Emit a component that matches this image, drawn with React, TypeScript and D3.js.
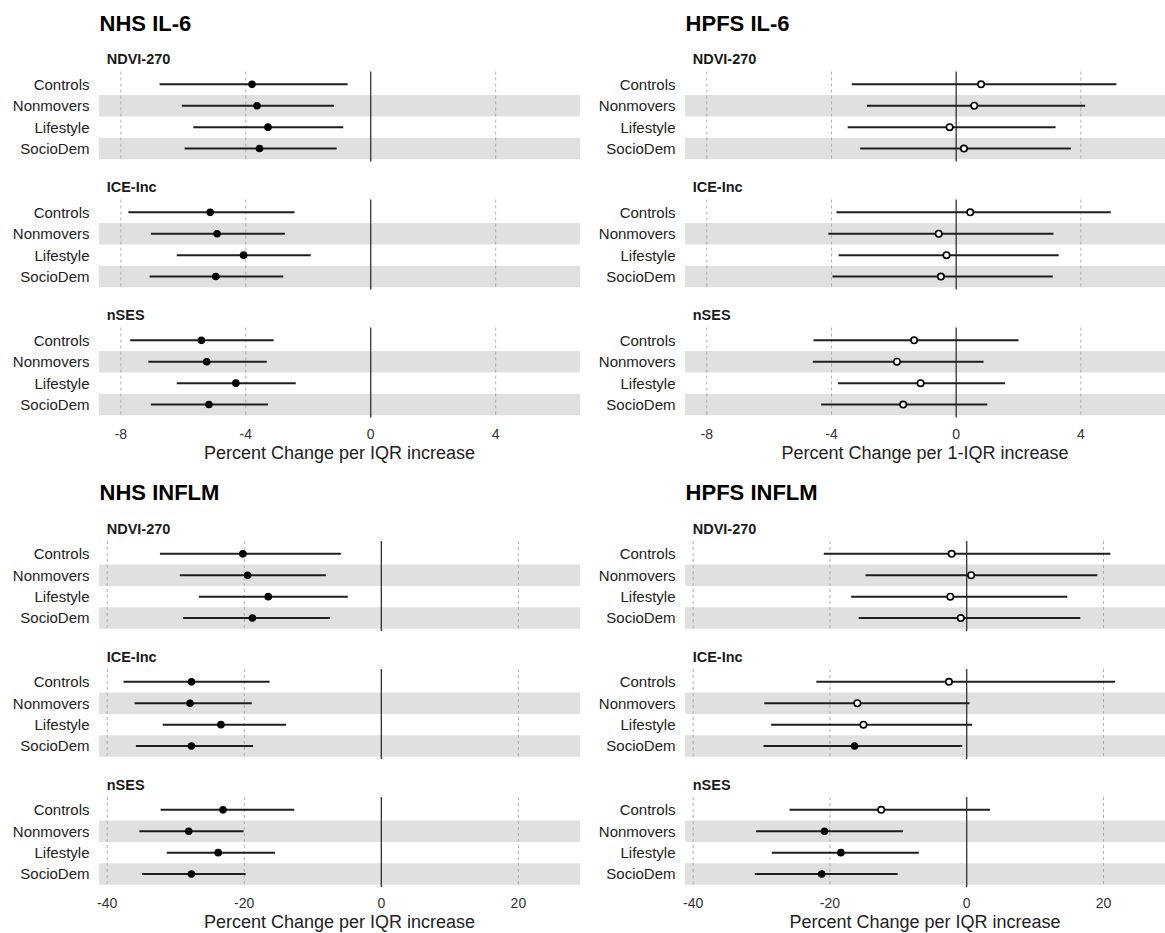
import * as d3 from 'd3'

// facets and models (rows inside each facet)
const exposures = ['NDVI-270', 'ICE-Inc', 'nSES']
const models = ['Controls', 'Nonmovers', 'Lifestyle', 'SocioDem']

// values in exposure order, 4 models each
const nhsIl6Est = [-3.8, -3.64, -3.29, -3.56, -5.14, -4.92, -4.07, -4.96, -5.42, -5.25, -4.32, -5.18]
const nhsIl6Lo = [-6.76, -6.05, -5.68, -5.96, -7.76, -7.04, -6.21, -7.08, -7.7, -7.12, -6.21, -7.04]
const nhsIl6Hi = [-0.74, -1.18, -0.88, -1.09, -2.44, -2.75, -1.92, -2.8, -3.11, -3.33, -2.4, -3.29]

const hpfsIl6Est = [0.8, 0.58, -0.21, 0.25, 0.45, -0.56, -0.31, -0.49, -1.35, -1.9, -1.14, -1.7]
const hpfsIl6Lo = [-3.35, -2.86, -3.48, -3.08, -3.84, -4.1, -3.77, -3.97, -4.58, -4.6, -3.79, -4.33]
const hpfsIl6Hi = [5.14, 4.14, 3.19, 3.68, 4.96, 3.12, 3.29, 3.1, 2.0, 0.88, 1.57, 1.0]

const nhsInflmEst = [-20.2, -19.5, -16.5, -18.8, -27.7, -27.9, -23.4, -27.7, -23.1, -28.1, -23.8, -27.7]
const nhsInflmLo = [-32.3, -29.4, -26.6, -28.9, -37.6, -36.0, -31.9, -35.8, -32.2, -35.3, -31.3, -34.9]
const nhsInflmHi = [-5.9, -8.1, -4.9, -7.5, -16.3, -18.9, -13.9, -18.7, -12.7, -20.1, -15.5, -19.8]

const hpfsInflmEst = [-2.2, 0.65, -2.4, -0.87, -2.6, -16.0, -15.1, -16.4, -12.5, -20.8, -18.4, -21.2]
const hpfsInflmLo = [-20.9, -14.8, -16.9, -15.8, -22.0, -29.6, -28.6, -29.7, -25.9, -30.8, -28.5, -31.0]
const hpfsInflmHi = [21.0, 19.1, 14.7, 16.6, 21.7, 0.4, 0.8, -0.65, 3.4, -9.3, -7.0, -10.1]

const il6Limits = [-8, 6]
const il6Ticks = [-8, -4, 0, 4]
const inflmLimits = [-38, 25.8]
const inflmTicks = [-40, -20, 0, 20]

const FONT = "'Liberation Sans', Arial, Helvetica, sans-serif"

const panels = [
  { title: 'NHS IL-6', est: nhsIl6Est, lo: nhsIl6Lo, hi: nhsIl6Hi, limits: il6Limits, ticks: il6Ticks, xTitle: 'Percent Change per IQR increase', col: 0, row: 0 },
  { title: 'HPFS IL-6', est: hpfsIl6Est, lo: hpfsIl6Lo, hi: hpfsIl6Hi, limits: il6Limits, ticks: il6Ticks, xTitle: 'Percent Change per 1-IQR increase', col: 1, row: 0 },
  { title: 'NHS INFLM', est: nhsInflmEst, lo: nhsInflmLo, hi: nhsInflmHi, limits: inflmLimits, ticks: inflmTicks, xTitle: 'Percent Change per IQR increase', col: 0, row: 1 },
  { title: 'HPFS INFLM', est: hpfsInflmEst, lo: hpfsInflmLo, hi: hpfsInflmHi, limits: inflmLimits, ticks: inflmTicks, xTitle: 'Percent Change per IQR increase', col: 1, row: 1 },
]

const columns = [
  { labelRight: 89.5, x0: 99, x1: 580 },
  { labelRight: 675.5, x0: 685, x1: 1165 },
]
const rowOffsets = [0, 469.5]
const facetStep = 128
const facetTop = 71.5
const facetHeight = 89.9

function Panel({ p }: { p: (typeof panels)[number] }) {
  const c = columns[p.col]
  const oy = rowOffsets[p.row]
  const [a, b] = p.limits
  const pad = (b - a) * 0.05
  const x = d3.scaleLinear().domain([a - pad, b + pad]).range([c.x0, c.x1])

  const lastBottom = oy + facetTop + facetStep * 2 + facetHeight

  return (
    <g>
      <text x={c.x0 + 0.6} y={oy + 30.5} fontSize={22} fontWeight="bold" fill="#000">{p.title}</text>
      {exposures.map((ex, k) => {
        const top = oy + facetTop + facetStep * k
        const y = d3.scaleBand<string>().domain(models).range([top, top + facetHeight]).paddingInner(0).paddingOuter(0.1)
        const bw = y.bandwidth()
        return (
          <g key={ex}>
            <text x={c.x0 + 7.7} y={top - 7.5} fontSize={14.5} fontWeight="bold" fill="#1a1a1a">{ex}</text>
            {models.map((m, i) => (i % 2 === 1 ? (
              <rect key={m} x={c.x0} y={y(m)} width={c.x1 - c.x0} height={bw} fill="#e0e0e0" />
            ) : null))}
            {p.ticks.filter(t => t !== 0).map(t => (
              <line key={t} x1={x(t)} x2={x(t)} y1={top} y2={top + facetHeight} stroke="#a6a6a6" strokeWidth={0.9} strokeDasharray="3,3" />
            ))}
            <line x1={x(0)} x2={x(0)} y1={top} y2={top + facetHeight} stroke="#222" strokeWidth={1.2} />
            {models.map((m, i) => {
              const idx = k * 4 + i
              const cy = (y(m) as number) + bw / 2
              const lo = p.lo[idx]
              const hi = p.hi[idx]
              const sig = hi < 0 || lo > 0
              return (
                <g key={m}>
                  <text x={c.labelRight} y={cy} dy="0.36em" textAnchor="end" fontSize={15} fill="#222">{m}</text>
                  <line x1={x(lo)} x2={x(hi)} y1={cy} y2={cy} stroke="#1e1e1e" strokeWidth={2} />
                  {sig ? (
                    <circle cx={x(p.est[idx])} cy={cy} r={3.8} fill="#000" />
                  ) : (
                    <circle cx={x(p.est[idx])} cy={cy} r={3.2} fill="#fff" stroke="#000" strokeWidth={1.6} />
                  )}
                </g>
              )
            })}
          </g>
        )
      })}
      {p.ticks.map(t => (
        <text key={t} x={x(t)} y={lastBottom + 21.5} textAnchor="middle" fontSize={14} fill="#333">{t}</text>
      ))}
      <text x={(c.x0 + c.x1) / 2} y={lastBottom + 41.5} textAnchor="middle" fontSize={18} fill="#222">{p.xTitle}</text>
    </g>
  )
}

export default function App() {
  return (
    <svg width={1165} height={933} style={{ position: 'absolute', left: 0, top: 0, background: '#fff' }} fontFamily={FONT}>
      <rect x={0} y={0} width={1165} height={933} fill="#fff" />
      {panels.map(p => <Panel key={p.title} p={p} />)}
    </svg>
  )
}
